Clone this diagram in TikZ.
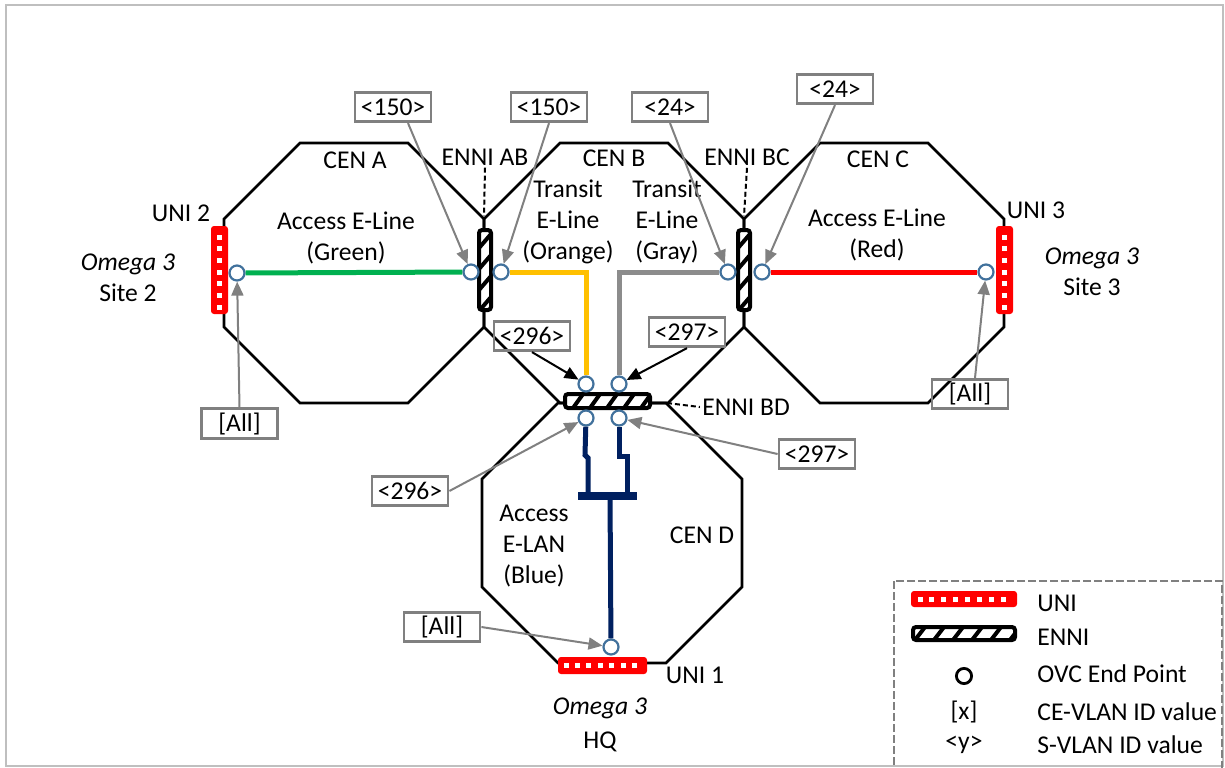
\documentclass[tikz,border=0pt]{standalone}
\usepackage{fontspec}
\setmainfont{Carlito}
\usetikzlibrary{arrows.meta,calc,positioning}
\definecolor{unired}{RGB}{255,0,0}
\definecolor{evcgreen}{RGB}{0,176,80}
\definecolor{evcorange}{RGB}{255,192,0}
\definecolor{evcgray}{RGB}{140,140,140}
\definecolor{evcnavy}{RGB}{0,32,96}
\definecolor{epblue}{RGB}{65,113,156}
\definecolor{taggray}{RGB}{128,128,128}
\definecolor{framegray}{RGB}{191,191,191}

\begin{document}
\begin{tikzpicture}[x=0.5pt,y=-0.5pt,
    font=\fontsize{12.8}{15.5}\selectfont,
    cen/.style={line width=1.3pt},
    ep/.style={circle,draw=epblue,line width=1.1pt,fill=white,minimum size=7.5pt,inner sep=0pt},
    tag/.style={draw=taggray,line width=1.4pt,minimum width=38pt,minimum height=14.7pt,inner sep=0pt},
    tagarrow/.style={draw=taggray,line width=1pt,-{Triangle[length=7pt,width=6pt]}},
    blkarrow/.style={line width=1pt,-{Triangle[length=7pt,width=6pt]}},
    evc/.style={line width=2.5pt},
    unibar/.style={fill=unired,rounded corners=1.5pt,inner sep=0pt},
    ennibar/.style={draw=black,fill=white,line width=2pt,rounded corners=1.5pt,inner sep=0pt},
    lbl/.style={align=center,inner sep=1pt},
    pointer/.style={dash pattern=on 2.5pt off 1.5pt,line width=1pt}]
    \useasboundingbox (0,0) rectangle (1225,767);
    %Frame
    \draw[framegray,line width=1.2pt] (6,5) rectangle (1223,766);
    %CEN octagons
    \foreach \cx/\cy in {354/273,614/273,874/273,612/533}
        \draw[cen] (\cx-54,\cy-130) -- (\cx+54,\cy-130) -- (\cx+130,\cy-54) -- (\cx+130,\cy+54)
            -- (\cx+54,\cy+130) -- (\cx-54,\cy+130) -- (\cx-130,\cy+54) -- (\cx-130,\cy-54) -- cycle;
    %Labels
    \node[lbl] (cenA) at (355,160) {CEN A};
    \node[lbl] (cenB) at (614,158) {CEN B};
    \node[lbl] (cenC) at (878,159) {CEN C};
    \node[lbl] (cenD) at (702,535) {CEN D};
    \node[lbl] (lblAB) at (485,157) {ENNI AB};
    \node[lbl] (lblBC) at (747,157) {ENNI BC};
    \node[lbl] (lblBD) at (746,407) {ENNI BD};
    \node[lbl] (lblU2) at (181,213) {UNI 2};
    \node[lbl] (lblU3) at (1036,210) {UNI 3};
    \node[lbl] (lblU1) at (695,675) {UNI 1};
    \node[lbl] (site2) at (128,278) {\textit{Omega 3}\\Site 2};
    \node[lbl] (site3) at (1092,272) {\textit{Omega 3}\\Site 3};
    \node[lbl] (siteHQ) at (600,725) {\textit{Omega 3}\\[1.5pt]HQ};
    \node[lbl] (evcGreen) at (346,238) {Access E-Line\\(Green)};
    \node[lbl] (evcOrange) at (568,222) {Transit\\E-Line\\(Orange)};
    \node[lbl] (evcGray) at (667,222) {Transit\\E-Line\\(Gray)};
    \node[lbl] (evcRed) at (877,235) {Access E-Line\\(Red)};
    \node[lbl] (evcBlue) at (534,546) {Access\\E-LAN\\(Blue)};
    %Pointers to ENNIs
    \coordinate (vAB) at (484,216);
    \coordinate (vBC) at (744,216);
    \coordinate (vBD) at (667,403);
    \draw[pointer] (lblAB.south) -- (vAB);
    \draw[pointer] (lblBC.south) -- (vBC);
    \draw[pointer] (vBD) -- (lblBD.west);
    %UNIs
    \node[unibar,minimum width=8.5pt,minimum height=44pt] (uni2) at (219.5,270) {};
    \foreach \k in {0,...,6} \fill[white] (217,234.5+\k*11.7) rectangle ++(5,5);
    \node[unibar,minimum width=8.5pt,minimum height=44pt] (uni3) at (1004.5,270) {};
    \foreach \k in {0,...,6} \fill[white] (1002,234.5+\k*11.7) rectangle ++(5,5);
    \node[unibar,minimum width=44.5pt,minimum height=8.5pt] (uni1) at (602.5,665.5) {};
    \foreach \k in {0,...,6} \fill[white] (563.5+\k*11.4,663) rectangle ++(5,5);
    %ENNIs
    \node[ennibar,minimum width=6pt,minimum height=40pt] (enniAB) at (485,270) {};
    \begin{scope}
        \clip (480,232) rectangle (490,308);
        \foreach \k in {0,...,3} \draw[line width=2pt] (479,248+\k*21) -- (491,234+\k*21);
    \end{scope}
    \node[ennibar,minimum width=6pt,minimum height=40pt] (enniBC) at (744,270) {};
    \begin{scope}
        \clip (739,232) rectangle (749,308);
        \foreach \k in {0,...,3} \draw[line width=2pt] (738,248+\k*21) -- (750,234+\k*21);
    \end{scope}
    \node[ennibar,minimum width=42.5pt,minimum height=7pt] (enniBD) at (607.5,401) {};
    \begin{scope}
        \clip (567,396) rectangle (648,406);
        \foreach \k in {0,...,4} \draw[line width=2pt] (573+\k*17,408) -- (583+\k*17,394);
    \end{scope}
    %OVC end points
    \node[ep] (epU2) at (237,273) {};
    \node[ep] (epABl) at (471,272) {};
    \node[ep] (epABr) at (501,272) {};
    \node[ep] (epBCl) at (728,272) {};
    \node[ep] (epBCr) at (762,272) {};
    \node[ep] (epU3) at (986,272) {};
    \node[ep] (epBDtl) at (586,384) {};
    \node[ep] (epBDtr) at (619,384) {};
    \node[ep] (epBDbl) at (586,418) {};
    \node[ep] (epBDbr) at (619,418) {};
    \node[ep] (epU1) at (611,647) {};
    %EVCs
    \draw[evc,evcgreen] (epU2) -- (epABl);
    \draw[evc,evcorange] (epABr) -| (epBDtl);
    \draw[evc,evcgray] (epBCl) -| (epBDtr);
    \draw[evc,unired] (epBCr) -- (epU3);
    \coordinate (elanL) at (588,496);
    \coordinate (elanR) at (627,496);
    \coordinate (elanM) at (610,496);
    \draw[evc,evcnavy] (epBDbl) -- (585,455) -- (588,458) -- (elanL);
    \draw[evc,evcnavy] (epBDbr) -- (619,456) -- (627,456) -- (elanR);
    \draw[evcnavy,line width=4pt] (578,496) -- (637,496);
    \draw[evc,evcnavy] (elanM) -- (epU1);
    %VLAN tags
    \node[tag] (t150a) at (393,107) {<150>};
    \node[tag] (t150b) at (549,107) {<150>};
    \node[tag] (t24a) at (670,107) {<24>};
    \node[tag] (t24b) at (835,89) {<24>};
    \node[tag] (t296a) at (532,336) {<296>};
    \node[tag] (t297a) at (687,332) {<297>};
    \node[tag] (t296b) at (410,491) {<296>};
    \node[tag] (t297b) at (817,454) {<297>};
    \node[tag] (allL) at (239.5,423.5) {[All]};
    \node[tag] (allR) at (970,394) {[All]};
    \node[tag] (allD) at (442,627) {[All]};
    \draw[tagarrow] ([xshift=7.5pt]t150a.south) -- (epABl);
    \draw[tagarrow] (t150b.south) -- (epABr);
    \draw[tagarrow] (t24a.south) -- (epBCl);
    \draw[tagarrow] (t24b.south) -- (epBCr);
    \draw[blkarrow] (t296a.south) -- (epBDtl);
    \draw[blkarrow] (t297a.south) -- (epBDtr);
    \draw[tagarrow] (t296b.east) -- (epBDbl);
    \draw[tagarrow] (t297b.west) -- (epBDbr);
    \draw[tagarrow] (allL.north) -- (epU2);
    \draw[tagarrow] ([xshift=2.5pt]allR.north) -- (epU3);
    \draw[tagarrow] (allD.east) -- (epU1);
    %Legend
    \draw[taggray,line width=1pt,dash pattern=on 4pt off 1.5pt] (894,581) rectangle (1222,775);
    \node[unibar,minimum width=53pt,minimum height=8pt] (lgUni) at (964,599) {};
    \foreach \k in {0,...,7} \fill[white] (917.5+\k*11.86,596.5) rectangle ++(5,5);
    \node[ennibar,minimum width=51pt,minimum height=6.5pt] (lgEnni) at (964,633.5) {};
    \begin{scope}
        \clip (914,629) rectangle (1014,638);
        \foreach \k in {0,...,5} \draw[line width=2pt] (915+\k*19,640) -- (925+\k*19,627);
    \end{scope}
    \node[circle,draw=black,line width=1.4pt,minimum size=7.6pt,inner sep=0pt] (lgEp) at (964,676) {};
    \node[lbl] (lgX) at (964,712) {[x]};
    \node[lbl] (lgY) at (964,745) {<y>};
    \node[lbl,anchor=west] (lgUniTxt) at (1035,603) {UNI};
    \node[lbl,anchor=west] (lgEnniTxt) at (1035,637) {ENNI};
    \node[lbl,anchor=west] (lgEpTxt) at (1035,674) {OVC End Point};
    \node[lbl,anchor=west] (lgXTxt) at (1035,712) {CE-VLAN ID value};
    \node[lbl,anchor=west] (lgYTxt) at (1035,745) {S-VLAN ID value};
\end{tikzpicture}
\end{document}
